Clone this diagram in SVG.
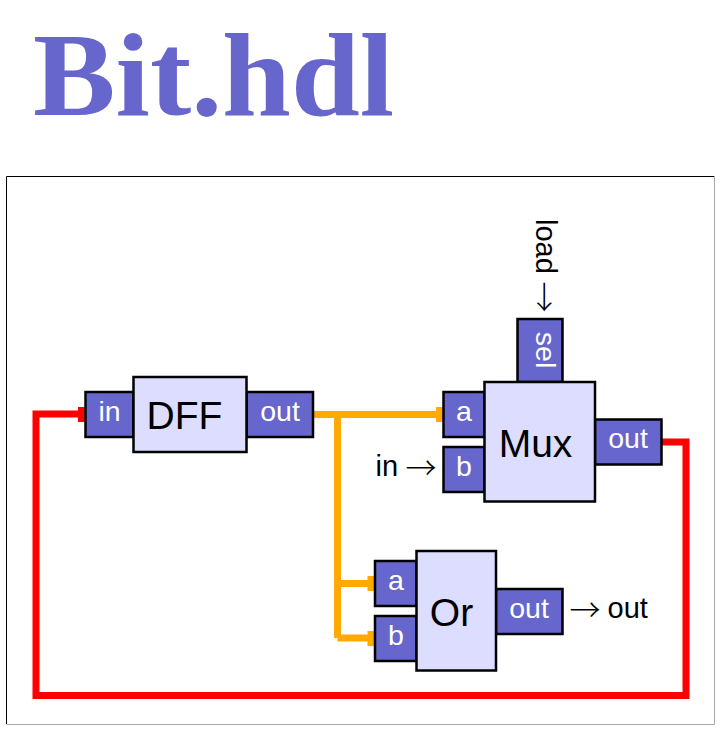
<svg xmlns="http://www.w3.org/2000/svg" width="721" height="729" viewBox="0 0 721 729">
<style>
text{font-family:"Liberation Sans",Arial,sans-serif;text-anchor:middle}
.chip{fill:#ddf;stroke:#000;stroke-width:2.5}
.pin{fill:#66c;stroke:#000;stroke-width:2.5}
.cn{font-size:39px;fill:#000}
.pn{font-size:28.500px;fill:#fff}
.lb{font-size:29px;fill:#000;text-anchor:start}
.ar{font-family:"Noto Sans CJK SC",sans-serif;font-size:31px;font-weight:300}
.red{fill:none;stroke:#f00;stroke-width:7}
.org{fill:none;stroke:#fa0;stroke-width:7}
</style>
<rect width="721" height="729" fill="#fff"/>
<text transform="translate(33 114.500) scale(1.04 1)" style="font-family:'Liberation Serif','Times New Roman',serif;font-weight:bold;font-size:119px;text-anchor:start;fill:#66c">Bit.hdl</text>
<path d="M714.5 176.5H6.5V724" fill="none" stroke="#000" stroke-width="1"/>
<path d="M714.5 176.5V724.5H6.5" fill="none" stroke="#aaa" stroke-width="1"/>
<g id="connectors">
<path class="red" d="M85 414H36V695.500H686V442H662"/>
<rect x="78" y="407" width="7" height="15" fill="#f00"/>
<path class="org" d="M313 414.500H443M337.500 414.500V638M337.500 583.500H374M337.500 638H374"/>
<rect x="436" y="407" width="7" height="15" fill="#fa0"/>
<rect x="367.500" y="576" width="7" height="15" fill="#fa0"/>
<rect x="367.500" y="631" width="7" height="15" fill="#fa0"/>
</g>
<g id="dff">
<rect class="pin" x="85.500" y="392" width="48" height="45"/>
<rect class="pin" x="246.500" y="392" width="66.500" height="45"/>
<rect class="chip" x="133.500" y="377" width="113" height="75"/>
<text class="pn" x="109.500" y="421">in</text>
<text class="pn" x="280" y="421">out</text>
<text class="cn" x="184.500" y="429">DFF</text>
</g>
<g id="mux">
<rect class="pin" x="443.500" y="392" width="41" height="45"/>
<rect class="pin" x="443.500" y="447" width="41" height="45"/>
<rect class="pin" x="517.500" y="319" width="45" height="63"/>
<rect class="pin" x="595" y="419.500" width="66.500" height="45"/>
<rect class="chip" x="484.500" y="382" width="110.500" height="119.500"/>
<text class="pn" x="464" y="421">a</text>
<text class="pn" x="464" y="476">b</text>
<text class="pn" transform="translate(536 350) rotate(90)">sel</text>
<text class="pn" x="628" y="447.500">out</text>
<text class="cn" x="535.500" y="457">Mux</text>
</g>
<g id="or">
<rect class="pin" x="375" y="561" width="41.500" height="45"/>
<rect class="pin" x="375" y="616" width="41.500" height="45"/>
<rect class="pin" x="496" y="589" width="66.500" height="45"/>
<rect class="chip" x="416.500" y="551" width="79.500" height="119.500"/>
<text class="pn" x="396" y="590">a</text>
<text class="pn" x="396" y="645">b</text>
<text class="pn" x="529" y="617.500">out</text>
<text class="cn" x="451.500" y="626">Or</text>
</g>
<g id="labels">
<text class="lb" x="375.500" y="476">in <tspan class="ar" x="405.500" y="479">→</tspan></text>
<text class="lb" x="569.500" y="618"><tspan class="ar" y="621">→</tspan> <tspan x="607.500" y="618">out</tspan></text>
<text class="lb" transform="translate(536 219) rotate(90)">load <tspan class="ar" x="62.500" y="3">→</tspan></text>
</g>
</svg>
